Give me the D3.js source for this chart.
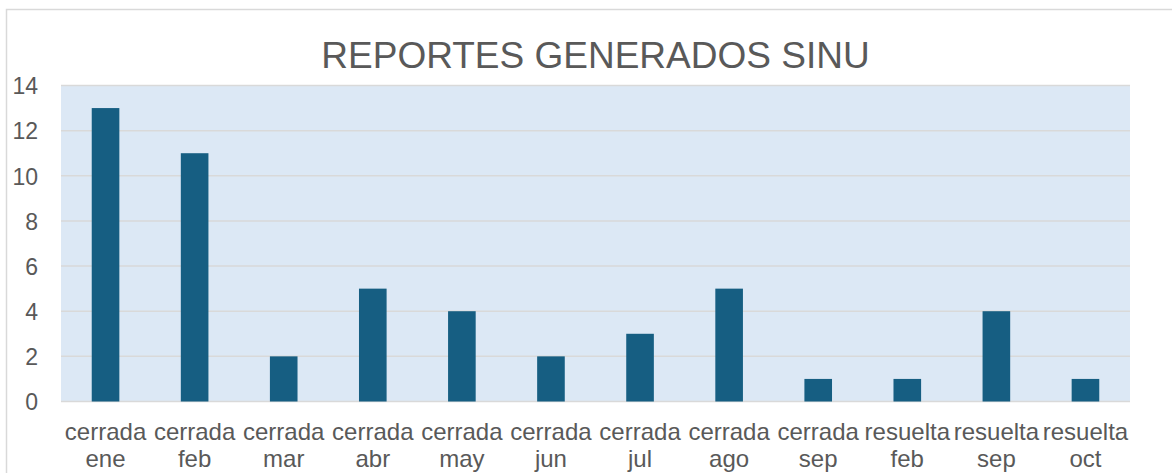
<!DOCTYPE html>
<html><head><meta charset="utf-8">
<script src="https://cdn.jsdelivr.net/npm/d3@7"></script>
<style>html,body{margin:0;padding:0;background:#fff;} svg{display:block;}</style>
</head><body>
<script>
const title = "REPORTES GENERADOS SINU";
const statusLabels = ["cerrada","cerrada","cerrada","cerrada","cerrada","cerrada","cerrada","cerrada","cerrada","resuelta","resuelta","resuelta"];
const monthLabels = ["ene","feb","mar","abr","may","jun","jul","ago","sep","feb","sep","oct"];
const values = [13, 11, 2, 5, 4, 2, 3, 5, 1, 1, 4, 1];
const yTicks = [0, 2, 4, 6, 8, 10, 12, 14];

const W = 1172, H = 473;
const plot = {left: 61, right: 1130, top: 85.5, bottom: 401.5};
const font = "'Liberation Sans', Arial, sans-serif";
const textColor = "#595959";

const svg = d3.select("body").append("svg").attr("width", W).attr("height", H);

svg.append("rect").attr("x", 6.5).attr("y", 9.5).attr("width", 1200).attr("height", 500)
  .attr("fill", "#fff").attr("stroke", "#d9d9d9").attr("stroke-width", 1.5);

const keys = values.map((d, i) => i);
const x = d3.scaleBand().domain(keys).range([plot.left, plot.right]).paddingInner(0.69).paddingOuter(0.345);
const y = d3.scaleLinear().domain([0, 14]).range([plot.bottom, plot.top]);

svg.append("rect").attr("x", plot.left).attr("y", plot.top)
  .attr("width", plot.right - plot.left).attr("height", plot.bottom - plot.top)
  .attr("fill", "#dce8f5");

svg.append("g").selectAll("line").data(yTicks).join("line")
  .attr("x1", plot.left).attr("x2", plot.right)
  .attr("y1", d => y(d)).attr("y2", d => y(d))
  .attr("stroke", "#d9d9d9").attr("stroke-width", 1.5);

svg.append("g").selectAll("rect").data(values).join("rect")
  .attr("x", (d, i) => x(i)).attr("width", x.bandwidth())
  .attr("y", d => y(d)).attr("height", d => y(0) - y(d))
  .attr("fill", "#165e82");

const yAxis = svg.append("g").attr("transform", `translate(${plot.left - 23},0)`)
  .call(d3.axisLeft(y).tickValues(yTicks).tickSize(0).tickPadding(0));
yAxis.select(".domain").remove();
yAxis.selectAll("text").attr("font-family", font).attr("font-size", 23).attr("fill", textColor)
  .attr("dy", "0.36em");

const xAxis = svg.append("g").attr("transform", `translate(0,${plot.bottom})`)
  .call(d3.axisBottom(x).tickSize(0).tickFormat(() => ""));
xAxis.select(".domain").remove();
xAxis.selectAll(".tick").each(function(d) {
  const t = d3.select(this).append("text").attr("font-family", font).attr("font-size", 24)
    .attr("fill", textColor).attr("text-anchor", "middle");
  t.append("tspan").attr("x", 0).attr("y", 38.5).text(statusLabels[d]);
  t.append("tspan").attr("x", 0).attr("y", 65).text(monthLabels[d]);
});

svg.append("text").attr("x", (plot.left + plot.right) / 2).attr("y", 68)
  .attr("text-anchor", "middle").attr("font-family", font).attr("font-size", 37)
  .attr("fill", textColor).text(title);
</script>
</body></html>
